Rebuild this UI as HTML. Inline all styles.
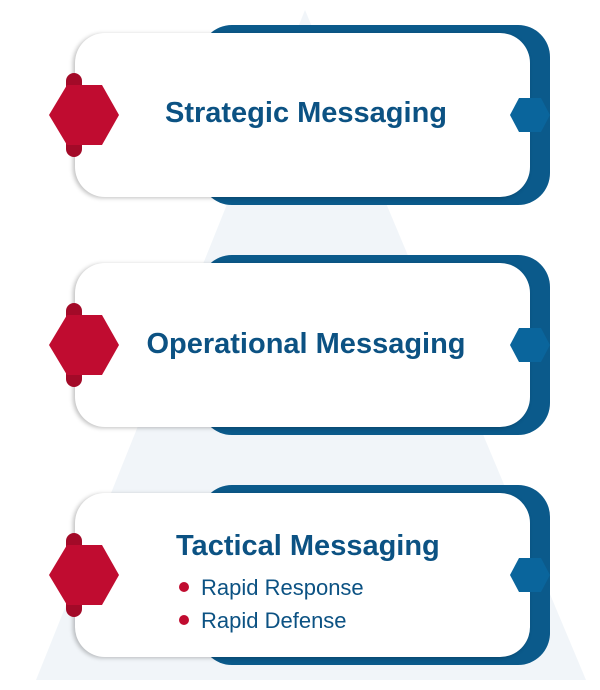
<!DOCTYPE html><html><head><style>
body{margin:0;width:600px;height:690px;background:#fff;position:relative;overflow:hidden;font-family:"Liberation Sans",sans-serif}
.a{position:absolute}
.back{background:#0b5a8b;border-radius:32px;left:200px;width:350px;height:180px}
.card{background:#fff;border-radius:30px;left:75px;width:455px;height:164px;box-shadow:-2px 1px 4px rgba(0,0,0,.25)}
.t{color:#0c5283;font-weight:bold;font-size:29px;letter-spacing:0px}
.li{color:#0c5283;font-size:22px}
.dot{display:inline-block;width:10px;height:10px;border-radius:50%;background:#c00c30;margin-right:12px;vertical-align:middle;position:relative;top:-2px}
</style></head><body>
<svg class="a" style="left:0;top:0" width="600" height="690"><polygon points="305,10 36,680 586,680" fill="#f1f5f9"/></svg>

<div class="a back" style="top:25px"></div>
<div class="a card" style="top:33px"></div>
<div class="a back" style="top:255px"></div>
<div class="a card" style="top:263px"></div>
<div class="a back" style="top:485px"></div>
<div class="a card" style="top:493px"></div>

<svg class="a" style="left:0;top:0" width="600" height="690">
<g fill="#a30a28"><rect x="66" y="73" width="16" height="84" rx="8"/><rect x="66" y="303" width="16" height="84" rx="8"/><rect x="66" y="533" width="16" height="84" rx="8"/></g>
<g fill="#c00c30">
<polygon points="49,115 67,85 102,85 119,115 102,145 67,145"/>
<polygon points="49,345 67,315 102,315 119,345 102,375 67,375"/>
<polygon points="49,575 67,545 102,545 119,575 102,605 67,605"/>
</g>
<g fill="#0a659c">
<polygon points="510,115 519,98 541,98 550,115 541,132 519,132"/>
<polygon points="510,345 519,328 541,328 550,345 541,362 519,362"/>
<polygon points="510,575 519,558 541,558 550,575 541,592 519,592"/>
</g>
</svg>

<div class="a t" style="left:0;width:612px;text-align:center;top:97px">Strategic Messaging</div>
<div class="a t" style="left:0;width:612px;text-align:center;top:328px">Operational Messaging</div>
<div class="a t" style="left:176px;top:530px">Tactical Messaging</div>
<div class="a li" style="left:179px;top:575px"><span class="dot"></span>Rapid Response</div>
<div class="a li" style="left:179px;top:608px"><span class="dot"></span>Rapid Defense</div>
</body></html>
